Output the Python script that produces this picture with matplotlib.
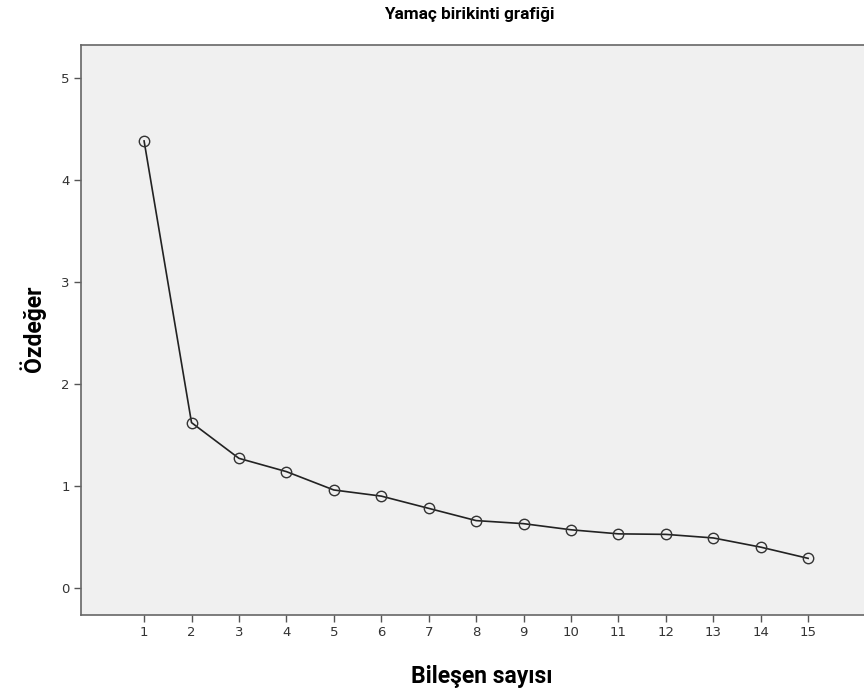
import matplotlib.pyplot as plt
import numpy as np

# Scree plot data
components = list(range(1, 16))
eigenvalues = [4.38, 1.62, 1.27, 1.14, 0.96, 0.90, 0.78, 0.66,
               0.63, 0.57, 0.53, 0.525, 0.49, 0.40, 0.29]
y_ticks = [0, 1, 2, 3, 4, 5]

fig = plt.figure(figsize=(8.64, 6.93), dpi=100)
# axes runs to the right edge (cropped like the original)
ax = fig.add_axes([81 / 864, 1 - 615 / 693, (866 - 81) / 864, (615 - 45) / 693])
ax.set_facecolor('#f0f0f0')

ax.plot(components, eigenvalues, '-', color='#222222', lw=1.2,
        marker='o', markersize=7.5, markerfacecolor='none',
        markeredgecolor='#333333', markeredgewidth=1.0)

ax.set_xlim(-0.33, 16.22)
ax.set_ylim(-0.265, 5.32)
ax.set_xticks(components)
ax.set_yticks(y_ticks)

tick_font = ['DejaVu Sans Condensed', 'DejaVu Sans']
ax.set_xticklabels([str(c) for c in components], family=tick_font, fontsize=9.5, color='#333333')
ax.set_yticklabels([str(t) for t in y_ticks], family=tick_font, fontsize=9.5, color='#333333')
ax.tick_params(direction='out', length=5, width=1, color='#555555', pad=3)

for s in ax.spines.values():
    s.set_color('#666666')
    s.set_linewidth(1.2)

label_font = ['Roboto', 'DejaVu Sans']
fig.text(469 / 864, 1 - 14 / 693, 'Yamaç birikinti grafiği', ha='center', va='center',
         fontsize=12.4, fontweight='bold', family=label_font)
fig.text(482 / 864, 1 - 676 / 693, 'Bileşen sayısı', ha='center', va='center',
         fontsize=16.5, fontweight='bold', family=label_font)
fig.text(33 / 864, 1 - 329 / 693, 'Özdeğer', ha='center', va='center', rotation=90,
         fontsize=16.5, fontweight='bold', family=label_font)

fig.savefig('out.png', dpi=100, facecolor='white')
